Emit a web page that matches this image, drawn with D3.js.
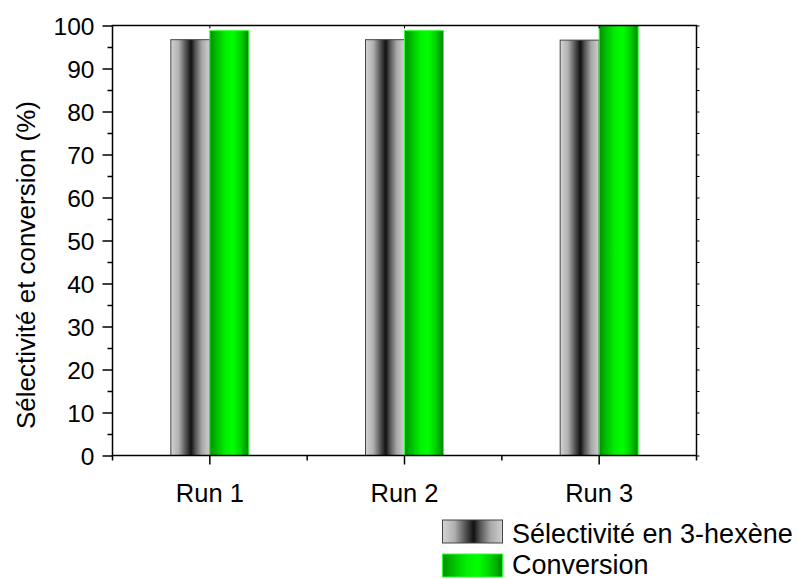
<!DOCTYPE html>
<html><head><meta charset="utf-8">
<script src="https://cdn.jsdelivr.net/npm/d3@7"></script>
<style>body{margin:0;background:#fff}svg{display:block}</style>
</head><body>
<svg id="c" width="797" height="579"></svg>
<script>
const categories = ["Run 1", "Run 2", "Run 3"];
const selectivity = [96.7, 96.7, 96.6];
const conversion = [98.8, 98.8, 100];
const seriesNames = ["Sélectivité en 3-hexène", "Conversion"];
const yTicks = [0,10,20,30,40,50,60,70,80,90,100];
const yTitle = "Sélectivité et conversion (%)";

const FONT = "'Liberation Sans', Arial, sans-serif";
const FS = 24.5;
const svg = d3.select("#c").attr("font-family", FONT);
const L = 112.5, R = 696.5, T = 25.5, B = 455.5;
const x = d3.scaleBand().domain(categories).range([L, R]);
const y = d3.scaleLinear().domain([0, 100]).range([B, T]);
const bw = 39;

const defs = svg.append("defs");
const g1 = defs.append("linearGradient").attr("id","gGray");
[[0,"#d4d4d4"],[0.2,"#b0b0b0"],[0.4,"#4a4a4a"],[0.52,"#111"],[0.62,"#505050"],[0.8,"#a8a8a8"],[1,"#d0d0d0"]]
  .forEach(([o,c])=>g1.append("stop").attr("offset",o).attr("stop-color",c));
const g2 = defs.append("linearGradient").attr("id","gGreen");
[[0,"#009000"],[0.15,"#00b800"],[0.4,"#00f000"],[0.6,"#00ff00"],[0.8,"#00d000"],[1,"#008800"]]
  .forEach(([o,c])=>g2.append("stop").attr("offset",o).attr("stop-color",c));

// bars
categories.forEach((c,i)=>{
  const cx = x(c) + x.bandwidth()/2;
  svg.append("rect").attr("x", cx - bw).attr("y", y(selectivity[i])).attr("width", bw)
    .attr("height", B - y(selectivity[i])).attr("fill","url(#gGray)").attr("stroke","#444").attr("stroke-width",1);
  svg.append("rect").attr("x", cx).attr("y", y(conversion[i])).attr("width", bw)
    .attr("height", B - y(conversion[i])).attr("fill","url(#gGreen)").attr("stroke","#33ff33").attr("stroke-width",1);
});

// frame
svg.append("rect").attr("x",L).attr("y",T).attr("width",R-L).attr("height",B-T)
  .attr("fill","none").attr("stroke","#000").attr("stroke-width",1.5);

// left axis
const yAx = svg.append("g").attr("transform",`translate(${L},0)`)
  .call(d3.axisLeft(y).tickValues(yTicks).tickSize(10).tickPadding(8));
yAx.attr("font-family", FONT).attr("font-size", FS);
yAx.select(".domain").remove();
yAx.selectAll("line").attr("stroke","#000").attr("stroke-width",1.5);
yAx.selectAll("text").attr("fill","#000").attr("dy","0.36em");
const minor = d3.range(5,100,10);
svg.append("g").attr("transform",`translate(${L},0)`)
  .call(d3.axisLeft(y).tickValues(minor).tickSize(5).tickFormat(""))
  .call(g=>{g.select(".domain").remove();g.selectAll("line").attr("stroke","#000").attr("stroke-width",1.5);});
// right axis ticks
svg.append("g").attr("transform",`translate(${R},0)`)
  .call(d3.axisRight(y).tickValues(yTicks.concat(minor)).tickSize(3).tickFormat(""))
  .call(g=>{g.select(".domain").remove();g.selectAll("line").attr("stroke","#000").attr("stroke-width",1);});

// bottom axis
const xAx = svg.append("g").attr("transform",`translate(0,${B})`)
  .call(d3.axisBottom(x).tickSize(9).tickPadding(19));
xAx.attr("font-family", FONT).attr("font-size", 25.5);
xAx.select(".domain").remove();
xAx.selectAll("line").attr("stroke","#000").attr("stroke-width",1.5);
xAx.selectAll("text").attr("fill","#000");
const bounds = categories.map(c=>x(c)).concat([R]);
bounds.forEach(b=>{
  svg.append("line").attr("x1",b).attr("x2",b).attr("y1",B).attr("y2",B+5).attr("stroke","#000").attr("stroke-width",1.5);
});
// top ticks
categories.forEach(c=>{
  const cx = x(c)+x.bandwidth()/2;
  svg.append("line").attr("x1",cx).attr("x2",cx).attr("y1",T).attr("y2",T+3).attr("stroke","#000").attr("stroke-width",1);
});

// y title
svg.append("text").attr("transform",`translate(35,265) rotate(-90)`)
  .attr("text-anchor","middle").attr("font-size",26).text(yTitle);

// legend
const leg = svg.append("g");
[["url(#gGray)","#444"],["url(#gGreen)","#33ff33"]].forEach(([f,s],i)=>{
  const ly = 520 + i*34;
  leg.append("rect").attr("x",442.5).attr("y",ly).attr("width",60).attr("height",23)
    .attr("fill",f).attr("stroke",s).attr("stroke-width",1);
  leg.append("text").attr("x",512).attr("y",543 + i*31).attr("font-size",27).text(seriesNames[i]);
});
</script>
</body></html>
